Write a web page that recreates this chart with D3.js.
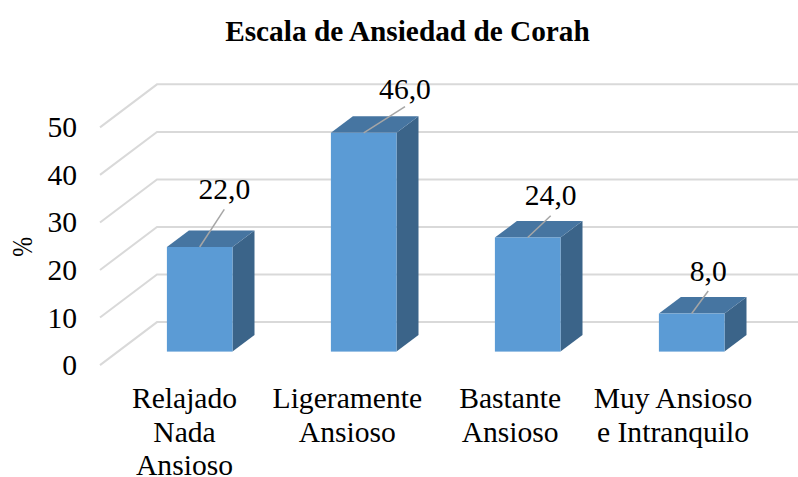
<!DOCTYPE html>
<html>
<head>
<meta charset="utf-8">
<script src="https://d3js.org/d3.v7.min.js"></script>
<style>
html,body{margin:0;padding:0;background:#fff;}
svg{display:block;}
text{font-family:"Liberation Serif","Times New Roman",serif;fill:#000;}
</style>
</head>
<body>
<svg width="798" height="477"></svg>
<script>
var categories = [
  ["Relajado","Nada","Ansioso"],
  ["Ligeramente","Ansioso"],
  ["Bastante","Ansioso"],
  ["Muy Ansioso","e Intranquilo"]
];
var values = [22, 46, 24, 8];
var valueLabels = ["22,0","46,0","24,0","8,0"];
var yTicks = [0, 10, 20, 30, 40, 50];
var titleText = "Escala de Ansiedad de Corah";
var yTitle = "%";

// where each data label sits, relative to the centre of the bar top
var labelDx = [24.6, 41.3, 23, 16.5];
var labelDy = [-37.7, -26.3, -21.8, -22.6];
var labelGap = [10, 7.7, 10.5, 10];

var svg = d3.select("svg");

var baseY = 351.6, rowH = 47.55;
var y = d3.scaleLinear().domain([0, 50]).range([baseY, baseY - 5 * rowH]);
var x = d3.scaleBand().domain(d3.range(categories.length))
  .range([117.7, 773.7]).paddingInner(0.6).paddingOuter(0.3);
var catX = d3.scalePoint().domain(d3.range(categories.length)).range([184.5, 673]);

// floor / wall depth, and bar depth
var wallDx = 57, wallDy = -43;   // front corner to back corner
var frontOff = 13.5;             // front corner sits below the bar baseline
var barDx = 22, barDy = -16.5;
var fontSize = 29.6;

var grid = svg.append("g").attr("fill", "none").attr("stroke", "#d9d9d9").attr("stroke-width", 2);
grid.selectAll("path").data(yTicks).enter().append("path")
  .attr("d", function(d){
    var yf = y(d) + frontOff;
    return "M100," + yf + "L" + (100 + wallDx) + "," + (yf + wallDy) + "L798," + (yf + wallDy);
  });

var bars = svg.append("g").selectAll("g").data(values).enter().append("g");

bars.append("path") // side
  .attr("fill", "#3b6489")
  .attr("d", function(d, i){
    var r = x(i) + x.bandwidth();
    return "M" + r + "," + y(d) + "l" + barDx + "," + barDy + "V" + (y(0) + barDy) + "l" + (-barDx) + "," + (-barDy) + "Z";
  });
bars.append("path") // top
  .attr("fill", "#4675a1")
  .attr("d", function(d, i){
    return "M" + x(i) + "," + y(d) + "l" + barDx + "," + barDy + "h" + x.bandwidth() + "l" + (-barDx) + "," + (-barDy) + "Z";
  });
bars.append("rect") // front
  .attr("fill", "#5b9bd5")
  .attr("x", function(d, i){ return x(i); })
  .attr("y", function(d){ return y(d); })
  .attr("width", x.bandwidth())
  .attr("height", function(d){ return y(0) - y(d); });

// leader lines
bars.append("line")
  .attr("stroke", "#a6a6a6").attr("stroke-width", 1.5)
  .attr("x1", function(d, i){ return x(i) + x.bandwidth() / 2; })
  .attr("y1", function(d){ return y(d); })
  .attr("x2", function(d, i){ return x(i) + x.bandwidth() / 2 + labelDx[i]; })
  .attr("y2", function(d, i){ return y(d) + labelDy[i]; });

bars.append("text")
  .attr("font-size", fontSize)
  .attr("text-anchor", "middle")
  .attr("x", function(d, i){ return x(i) + x.bandwidth() / 2 + labelDx[i]; })
  .attr("y", function(d, i){ return y(d) + labelDy[i] - labelGap[i]; })
  .text(function(d, i){ return valueLabels[i]; });

// y axis labels, on the front corners of the grid
var axis = d3.axisLeft(y).tickValues(yTicks).tickSize(0).tickPadding(0);
var axisG = svg.append("g").attr("transform", "translate(77," + frontOff + ")").call(axis);
axisG.attr("font-family", null);
axisG.select(".domain").remove();
axisG.selectAll("text")
  .attr("font-size", fontSize)
  .attr("dy", "0.32em");

svg.append("text")
  .attr("transform", "translate(32,247) rotate(-90) scale(0.8,1)")
  .attr("text-anchor", "middle")
  .attr("font-size", fontSize)
  .text(yTitle);

svg.append("text")
  .attr("x", 407.5).attr("y", 41)
  .attr("text-anchor", "middle")
  .attr("font-size", 29.3)
  .attr("font-weight", "bold")
  .text(titleText);

// category labels
var cats = svg.append("g").selectAll("text").data(categories).enter().append("text")
  .attr("font-size", fontSize)
  .attr("text-anchor", "middle");
cats.selectAll("tspan").data(function(d, i){
    return d.map(function(s){ return {s: s, i: i}; });
  }).enter().append("tspan")
  .attr("x", function(d){ return catX(d.i); })
  .attr("y", function(d, j){ return 408 + j * 33.5; })
  .text(function(d){ return d.s; });
</script>
</body>
</html>
